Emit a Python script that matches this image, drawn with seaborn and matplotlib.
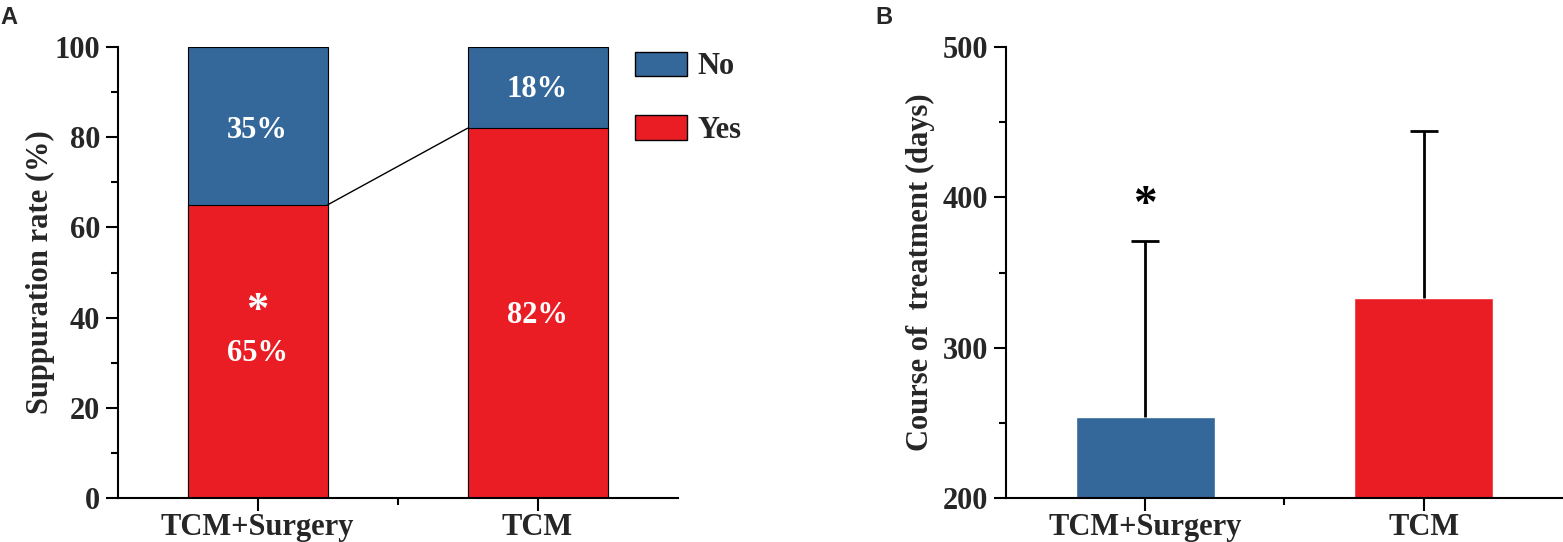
import pandas as pd
import matplotlib.pyplot as plt
import seaborn as sns
from matplotlib.patches import Patch
from matplotlib.ticker import MultipleLocator

# Data
groups = ['TCM+Surgery', 'TCM']
yes_pct = [65, 82]
no_pct = [35, 18]
course_mean = [254, 333]
course_sd = [117, 111]

blue = '#34679A'
red = '#EA1D25'

sns.set_theme(style='ticks')
plt.rcParams['font.family'] = ['Liberation Serif', 'DejaVu Serif']
plt.rcParams['font.weight'] = 'bold'
plt.rcParams['axes.labelweight'] = 'bold'
plt.rcParams['axes.linewidth'] = 1.5

df_a = pd.DataFrame({'group': groups, 'yes': yes_pct, 'no': no_pct})
df_a['total'] = df_a['yes'] + df_a['no']
df_b = pd.DataFrame({'group': groups, 'days': course_mean, 'sd': course_sd})

fig = plt.figure(figsize=(15.63, 5.42), dpi=100)
ax1 = fig.add_axes([0.0752, 0.0812, 0.3583, 0.832])
ax2 = fig.add_axes([0.6436, 0.0812, 0.3564, 0.832])

# Panel A: stacked 100% bars
sns.barplot(data=df_a, x='group', y='total', color=blue, width=0.5, saturation=1,
            edgecolor='black', linewidth=0.8, ax=ax1)
sns.barplot(data=df_a, x='group', y='yes', color=red, width=0.5, saturation=1,
            edgecolor='black', linewidth=0.8, ax=ax1)
ax1.plot([0.25, 0.75], [yes_pct[0], yes_pct[1]], color='black', lw=1)

lab = dict(color='white', ha='center', va='center', fontsize=22, fontweight='bold')
ax1.text(0, 81.5, f'{no_pct[0]}%', **lab)
ax1.text(1, 90.5, f'{no_pct[1]}%', **lab)
ax1.text(0, 32, f'{yes_pct[0]}%', **lab)
ax1.text(1, 40.5, f'{yes_pct[1]}%', **lab)
ax1.text(0, 41.5, '*', color='white', ha='center', va='center',
         fontsize=32, fontweight='bold')

ax1.set_xlim(-0.5, 1.5)
ax1.set_ylim(0, 100)
ax1.yaxis.set_major_locator(MultipleLocator(20))
ax1.yaxis.set_minor_locator(MultipleLocator(10))
ax1.set_xticks([0.5], minor=True)
ax1.set_xlabel('')
ax1.set_ylabel('Suppuration rate (%)', fontsize=22, labelpad=0)
ax1.legend(handles=[Patch(facecolor=blue, edgecolor='black', label='No'),
                    Patch(facecolor=red, edgecolor='black', label='Yes')],
           loc='upper left', bbox_to_anchor=(0.924, 0.99), frameon=False,
           fontsize=22, handlelength=1.7, handleheight=0.86,
           labelspacing=1.1, handletextpad=0.33, borderpad=0, borderaxespad=0)

# Panel B: course of treatment
sns.barplot(data=df_b, x='group', y='days', hue='group', palette=[blue, red],
            width=0.5, saturation=1, legend=False, ax=ax2)
eb = ax2.errorbar(df_b.index, df_b['days'], yerr=[[0, 0], df_b['sd']], fmt='none',
                  ecolor='black', elinewidth=2, capsize=10, capthick=2)
eb[1][0].remove()  # only upper caps
ax2.text(0, 394, '*', ha='center', va='center', fontsize=34, fontweight='bold',
         color='black')

ax2.set_xlim(-0.5, 1.5)
ax2.set_ylim(200, 500)
ax2.yaxis.set_major_locator(MultipleLocator(100))
ax2.yaxis.set_minor_locator(MultipleLocator(50))
ax2.set_xticks([0.5], minor=True)
ax2.set_xlabel('')
ax2.set_ylabel('Course of  treatment (days)', fontsize=22, labelpad=6)

for ax in (ax1, ax2):
    sns.despine(ax=ax)
    ax.tick_params(axis='both', which='major', direction='out', length=9,
                   width=1.5, labelsize=22, color='black')
    ax.tick_params(axis='x', which='major', pad=2)
    ax.tick_params(axis='both', which='minor', direction='out', length=5,
                   width=1.5, color='black')
    for lbl in ax.get_xticklabels() + ax.get_yticklabels():
        lbl.set_fontweight('bold')
    for s in ax.spines.values():
        s.set_color('black')

fig.text(0.0, 0.955, 'A', fontsize=17, fontweight='bold', family='Liberation Sans')
fig.text(0.5598, 0.955, 'B', fontsize=17, fontweight='bold', family='Liberation Sans')

fig.savefig('out.png', dpi=100)
